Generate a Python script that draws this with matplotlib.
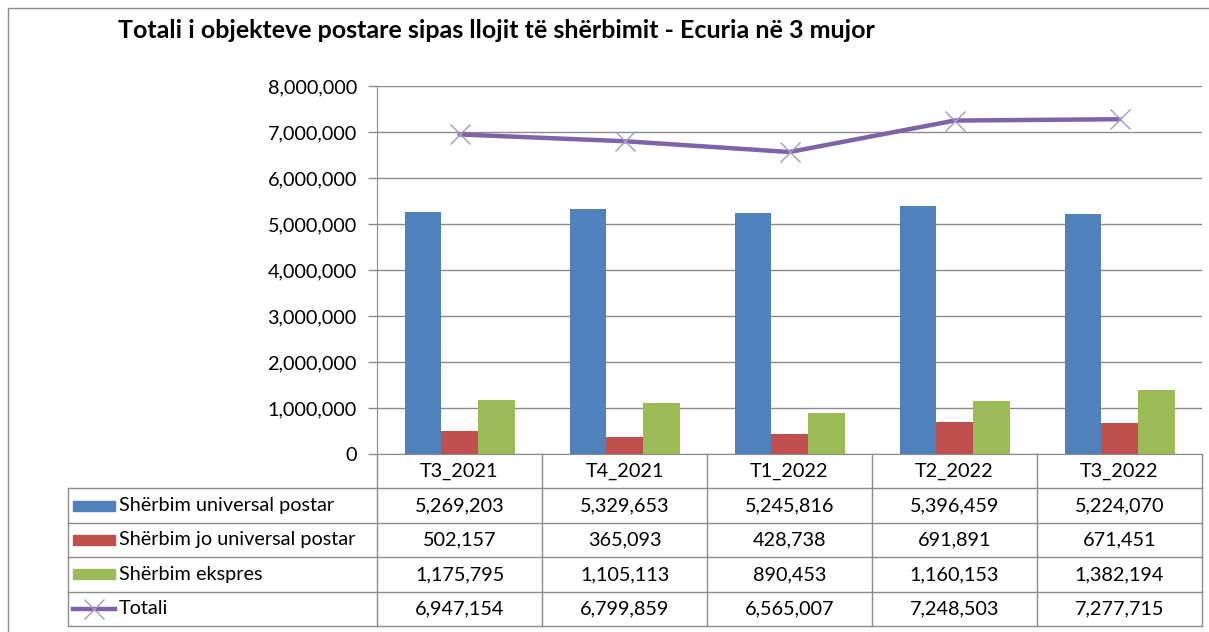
import numpy as np
import matplotlib.pyplot as plt
from matplotlib.patches import Rectangle
from matplotlib.lines import Line2D

# data
categories = ['T3_2021', 'T4_2021', 'T1_2022', 'T2_2022', 'T3_2022']
universal = [5269203, 5329653, 5245816, 5396459, 5224070]
jo_universal = [502157, 365093, 428738, 691891, 671451]
ekspres = [1175795, 1105113, 890453, 1160153, 1382194]
totali = [6947154, 6799859, 6565007, 7248503, 7277715]

series_names = ['Shërbim universal postar', 'Shërbim jo universal postar', 'Shërbim ekspres', 'Totali']
title = 'Totali i objekteve postare sipas llojit të shërbimit - Ecuria në 3 mujor'

C_BLUE = '#4F81BD'
C_RED = '#C0504D'
C_GREEN = '#9BBB59'
C_PURPLE = '#7F63A8'
C_GRID = '#8C8C8C'
FS = 14.3

plt.rcParams['font.family'] = ['Lato', 'DejaVu Sans']

W, H = 1209, 632
fig = plt.figure(figsize=(W/100, H/100), dpi=100)

ax_l, ax_r, ax_t, ax_b = 377, 1202, 86, 454
ax = fig.add_axes([ax_l/W, 1 - ax_b/H, (ax_r-ax_l)/W, (ax_b-ax_t)/H])

x = np.arange(len(categories))
bw = 1/4.5  # excel default gap width 150%
ax.bar(x - bw, universal, bw, color=C_BLUE, zorder=3)
ax.bar(x, jo_universal, bw, color=C_RED, zorder=3)
ax.bar(x + bw, ekspres, bw, color=C_GREEN, zorder=3)
ax.plot(x, totali, color=C_PURPLE, lw=3.2, zorder=4, solid_capstyle='round')
ax.plot(x, totali, ls='none', marker='x', ms=14, mew=1.0, mec='#A898C8', zorder=5)

ax.set_xlim(-0.5, len(categories) - 0.5)
ax.set_ylim(0, 8000000)
ax.set_yticks(np.arange(0, 8000001, 1000000))
ax.set_yticklabels([f'{v:,.0f}' for v in np.arange(0, 8000001, 1000000)], fontsize=FS)
ax.set_xticks([])
ax.yaxis.grid(True, color=C_GRID, lw=1, zorder=0)
ax.tick_params(axis='y', length=6.5, width=1, color=C_GRID, pad=8)
for s in ['top', 'right']:
    ax.spines[s].set_visible(False)
ax.spines['left'].set_color(C_GRID)
ax.spines['bottom'].set_color(C_GRID)

# data table below the axis
row_h = 34.4
cat_w = (ax_r - ax_l) / len(categories)
tab_left = 68
x_left = -0.5 - (ax_l - tab_left) / cat_w

def yf(py):
    return (ax_b - py) / (ax_b - ax_t)

tr = ax.get_xaxis_transform()
bottom_py = ax_b + 5*row_h

# vertical lines
for xv in np.arange(-0.5, len(categories), 1.0):
    ax.add_line(Line2D([xv, xv], [yf(ax_b), yf(bottom_py)], transform=tr, color=C_GRID, lw=1, clip_on=False))
ax.add_line(Line2D([x_left, x_left], [yf(ax_b + row_h), yf(bottom_py)], transform=tr, color=C_GRID, lw=1, clip_on=False))
# horizontal lines
for k in range(1, 6):
    py = ax_b + k*row_h
    ax.add_line(Line2D([x_left, len(categories) - 0.5], [yf(py), yf(py)], transform=tr, color=C_GRID, lw=1, clip_on=False))

# header
for i, c in enumerate(categories):
    ax.text(i, yf(ax_b + row_h/2), c, transform=tr, ha='center', va='center', fontsize=FS, clip_on=False)

table_vals = [universal, jo_universal, ekspres, totali]
key_colors = [C_BLUE, C_RED, C_GREEN]
key_x0 = x_left + (73 - tab_left)/cat_w
key_w = 42/cat_w
for r, vals in enumerate(table_vals):
    yc = ax_b + (r + 1.5)*row_h
    for i, v in enumerate(vals):
        ax.text(i, yf(yc), f'{v:,}', transform=tr, ha='center', va='center', fontsize=FS, clip_on=False)
    if r < 3:
        ax.add_patch(Rectangle((key_x0, yf(yc + 5)), key_w, yf(yc - 5) - yf(yc + 5), transform=tr,
                               color=key_colors[r], clip_on=False))
    else:
        ax.add_line(Line2D([key_x0, key_x0 + key_w], [yf(yc), yf(yc)], transform=tr, color=C_PURPLE, lw=3.2, clip_on=False))
        ax.add_line(Line2D([key_x0 + key_w/2], [yf(yc)], transform=tr, ls='none', marker='x', ms=14, mew=1.0,
                           mec='#A898C8', clip_on=False))
    ax.text(key_x0 + key_w + 4/cat_w, yf(yc), series_names[r], transform=tr, ha='left', va='center',
            fontsize=FS, clip_on=False)

# chart border and title
fig.patches.append(Rectangle((8/W, -0.1), 1.2, 1 - 8/H + 0.1, transform=fig.transFigure,
                             fill=False, ec='#8C8C8C', lw=1))
fig.text(118/W, 1 - 31/H, title, fontsize=18, fontweight='bold', va='center', ha='left')

plt.savefig('out.png', dpi=100)
